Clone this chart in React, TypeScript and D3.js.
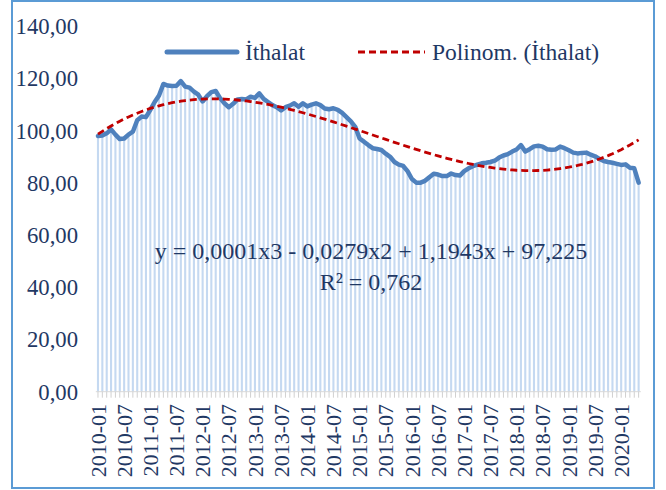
import { useMemo } from 'react'
import * as d3 from 'd3'

const W = 666, H = 490
const FONT = '"Liberation Serif", "Times New Roman", serif'
const TEXT = '#1F3864'

// monthly import index, 2010-01 .. 2020-05
const IMPORTS = [
  98.0, 98.2, 99.0, 100.5, 98.5, 96.8, 97.0, 98.5, 99.6, 104.0, 105.4, 105.2,
  108.0, 111.0, 113.5, 117.9, 117.3, 117.1, 117.2, 119.0, 116.9, 116.5, 115.0, 113.8,
  111.2, 113.2, 114.8, 115.2, 112.5, 110.5, 109.0, 110.3, 112.0, 112.1, 112.0, 113.0,
  112.6, 114.3, 112.2, 111.0, 109.8, 109.0, 107.8, 109.0, 109.6, 110.5, 109.2, 110.5,
  109.3, 110.0, 110.5, 109.8, 108.5, 108.2, 108.6, 108.0, 106.8, 105.2, 103.6, 101.5,
  97.0, 95.8, 94.5, 93.3, 93.0, 92.6, 91.2, 90.0, 88.0, 87.0, 86.5, 84.5,
  81.5, 80.1, 80.1, 80.8, 82.2, 83.5, 83.2, 82.6, 82.6, 83.6, 83.0, 82.8,
  84.5, 85.6, 86.4, 87.0, 87.5, 87.7, 88.0, 88.5, 89.7, 90.5, 91.0, 92.0,
  92.8, 94.5, 92.0, 92.9, 94.0, 94.2, 93.9, 92.9, 92.7, 92.8, 93.9, 93.3,
  92.5, 91.6, 91.3, 91.5, 91.6, 90.8, 90.2, 89.2, 88.4, 88.0, 87.7, 87.3,
  86.9, 87.1, 85.8, 85.6, 80.1,
]
const START = new Date(2010, 0, 1)
const MONTHS = d3.timeMonth
  .range(START, d3.timeMonth.offset(START, IMPORTS.length))
  .map(d3.timeFormat('%Y-%m'))
const Y_TICKS = [0, 20, 40, 60, 80, 100, 120, 140]
const LABEL_EVERY = 6
const SERIES_NAME = 'İthalat'
const TREND_NAME = 'Polinom. (İthalat)'
const EQUATION = 'y = 0,0001x3 - 0,0279x2 + 1,1943x + 97,225'
const R2 = 'R² = 0,762'

// least squares polynomial fit (like excel's trendline), x = 1..n scaled to 0..1
function polyFit(ys: number[], deg: number) {
  const n = ys.length
  const xs = ys.map((_, i) => (i + 1) / n)
  const k = deg + 1
  const A = d3.range(k).map(r => d3.range(k).map(c => d3.sum(xs, x => x ** (r + c))))
  const b = d3.range(k).map(r => d3.sum(xs, (x, i) => x ** r * ys[i]))
  for (let c = 0; c < k; c++) {
    let p = c
    for (let r = c + 1; r < k; r++) if (Math.abs(A[r][c]) > Math.abs(A[p][c])) p = r
    ;[A[c], A[p]] = [A[p], A[c]]; [b[c], b[p]] = [b[p], b[c]]
    for (let r = c + 1; r < k; r++) {
      const f = A[r][c] / A[c][c]
      for (let j = c; j < k; j++) A[r][j] -= f * A[c][j]
      b[r] -= f * b[c]
    }
  }
  const coef = new Array(k).fill(0)
  for (let r = k - 1; r >= 0; r--) {
    let s = b[r]
    for (let j = r + 1; j < k; j++) s -= A[r][j] * coef[j]
    coef[r] = s / A[r][r]
  }
  return xs.map(x => d3.sum(coef, (c, j) => c * x ** j))
}

const fmt = (v: number) => d3.format('.2f')(v).replace('.', ',')

export default function App() {
  const x = d3.scaleBand<string>().domain(MONTHS).range([95.8, 640.8])
  const y = d3.scaleLinear([0, 140], [391.7, 26.3])
  const trend = useMemo(() => polyFit(IMPORTS, 3), [])

  const cx = (i: number) => (x(MONTHS[i]) ?? 0) + x.bandwidth() / 2
  const line = d3.line<number>().x((_, i) => cx(i)).y(v => y(v))
  const barW = 2.1

  return (
    <svg width={W} height={H} style={{ position: 'absolute', left: 0, top: 0, background: '#fff' }}
      fontFamily={FONT}>
      <rect x={12} y={1} width={642} height={487} fill="#fff" stroke="#5B9BD5" strokeWidth={2} />

      {/* columns */}
      {IMPORTS.map((v, i) => (
        <rect key={i} x={cx(i) - barW / 2} y={y(v)} width={barW} height={y(0) - y(v)} fill="#C5D9F1" />
      ))}

      {/* x axis ticks */}
      <line x1={95.8} x2={640.8} y1={y(0)} y2={y(0)} stroke="#D9D9D9" />
      {MONTHS.map((m, i) => (
        <line key={m} x1={cx(i)} x2={cx(i)} y1={y(0)} y2={y(0) + 6} stroke="#D0D0D0" strokeWidth={1} />
      ))}

      {/* y labels */}
      {Y_TICKS.map(t => (
        <text key={t} x={78} y={y(t)} dy="0.35em" textAnchor="end" fontSize={22.7} fill={TEXT}>{fmt(t)}</text>
      ))}

      {/* x labels */}
      {MONTHS.map((m, i) => i % LABEL_EVERY === 0 && (
        <text key={m} transform={`translate(${cx(i)},404) rotate(-90)`} dy="0.35em" textAnchor="end"
          fontSize={22} fill={TEXT}>{m}</text>
      ))}

      <path d={line(IMPORTS) ?? ''} fill="none" stroke="#4F81BD" strokeWidth={4.5} strokeLinejoin="round" strokeLinecap="round" />
      <path d={line(trend) ?? ''} fill="none" stroke="#C00000" strokeWidth={2.8} strokeDasharray="7 4" />

      {/* legend */}
      <line x1={167} x2={237} y1={52} y2={52} stroke="#4F81BD" strokeWidth={5} strokeLinecap="round" />
      <text x={245} y={60} fontSize={23.5} fill={TEXT}>{SERIES_NAME}</text>
      <line x1={358} x2={425} y1={52} y2={52} stroke="#C00000" strokeWidth={2.8} strokeDasharray="7 4" />
      <text x={432} y={60} fontSize={23.5} fill={TEXT}>{TREND_NAME}</text>

      {/* trendline label */}
      <text x={371} y={259} textAnchor="middle" fontSize={24} fill={TEXT}>{EQUATION}</text>
      <text x={371} y={290} textAnchor="middle" fontSize={24} fill={TEXT}>{R2}</text>
    </svg>
  )
}
